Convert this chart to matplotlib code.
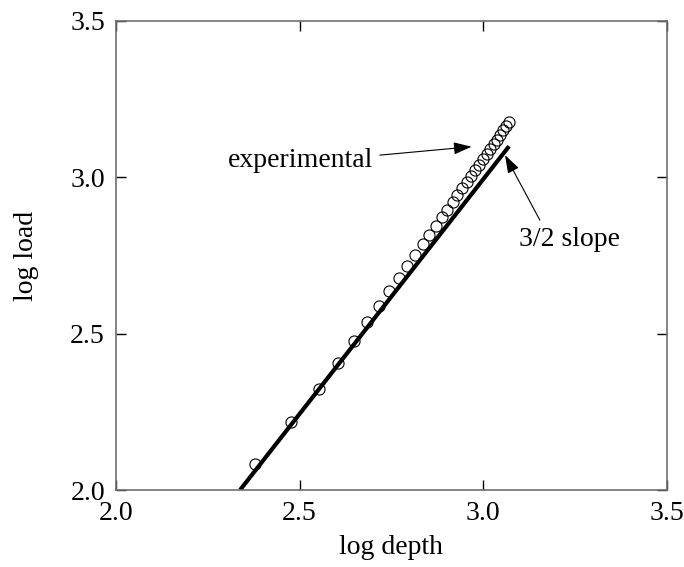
import numpy as np
import matplotlib
matplotlib.use("Agg")
import matplotlib.pyplot as plt

# experimental points (log depth, log load)
log_depth = [2.380, 2.477, 2.553, 2.606, 2.648, 2.685, 2.717, 2.745, 2.771, 2.794,
             2.816, 2.836, 2.854, 2.871, 2.887, 2.902, 2.917, 2.930, 2.943, 2.956,
             2.968, 2.979, 2.990, 3.000, 3.010, 3.020, 3.029, 3.038, 3.047, 3.055,
             3.063, 3.071]
log_load = [2.083, 2.219, 2.322, 2.406, 2.476, 2.536, 2.589, 2.636, 2.679, 2.717,
            2.753, 2.786, 2.816, 2.845, 2.872, 2.897, 2.921, 2.943, 2.965, 2.985,
            3.005, 3.023, 3.041, 3.059, 3.075, 3.091, 3.107, 3.121, 3.136, 3.150,
            3.163, 3.176]

# 3/2 slope line
slope_x = [2.338, 3.071]
slope_y = [2.000, 3.0995]

ticks = [2.0, 2.5, 3.0, 3.5]

plt.rcParams['font.family'] = ['Liberation Serif', 'DejaVu Serif']
plt.rcParams['font.size'] = 20

fig = plt.figure(figsize=(6.84, 5.67), dpi=100)
ax = fig.add_axes([116/684, 1-490/567, 550.5/684, 469/567])

ax.plot(slope_x, slope_y, color='black', lw=3.0, solid_capstyle='butt', zorder=2)
ax.plot(log_depth, log_load, 'o', mfc='none', mec='black', mew=0.8, ms=8, zorder=3)

ax.set_xlim(2.0, 3.5)
ax.set_ylim(2.0, 3.5)
ax.set_xticks(ticks)
ax.set_yticks(ticks)
ax.set_xticklabels(['%.1f' % t for t in ticks])
ax.set_yticklabels(['%.1f' % t for t in ticks])
ax.tick_params(direction='in', length=7, width=1.0, color='black', pad=8,
               top=True, right=True, labelsize=20)
for s in ax.spines.values():
    s.set_color('#707070')
    s.set_linewidth(1.2)

ax.set_xlabel('log depth', fontsize=20)
ax.set_ylabel('log load', fontsize=20)
ax.xaxis.set_label_coords(0.5, -0.095)
ax.yaxis.set_label_coords(-0.14, 0.5)

arrow = dict(arrowstyle='-|>,head_length=0.5,head_width=0.17', color='black',
             lw=0.8, mutation_scale=22, shrinkA=0, shrinkB=0)
ax.annotate('', xy=(2.969, 3.098), xytext=(2.719, 3.071), arrowprops=arrow)
ax.text(2.305, 3.055, 'experimental', ha='left', va='center', fontsize=20)
ax.annotate('', xy=(3.060, 3.071), xytext=(3.155, 2.863), arrowprops=arrow)
ax.text(3.098, 2.80, '3/2 slope', ha='left', va='center', fontsize=20)

fig.savefig('out.png', dpi=100)
